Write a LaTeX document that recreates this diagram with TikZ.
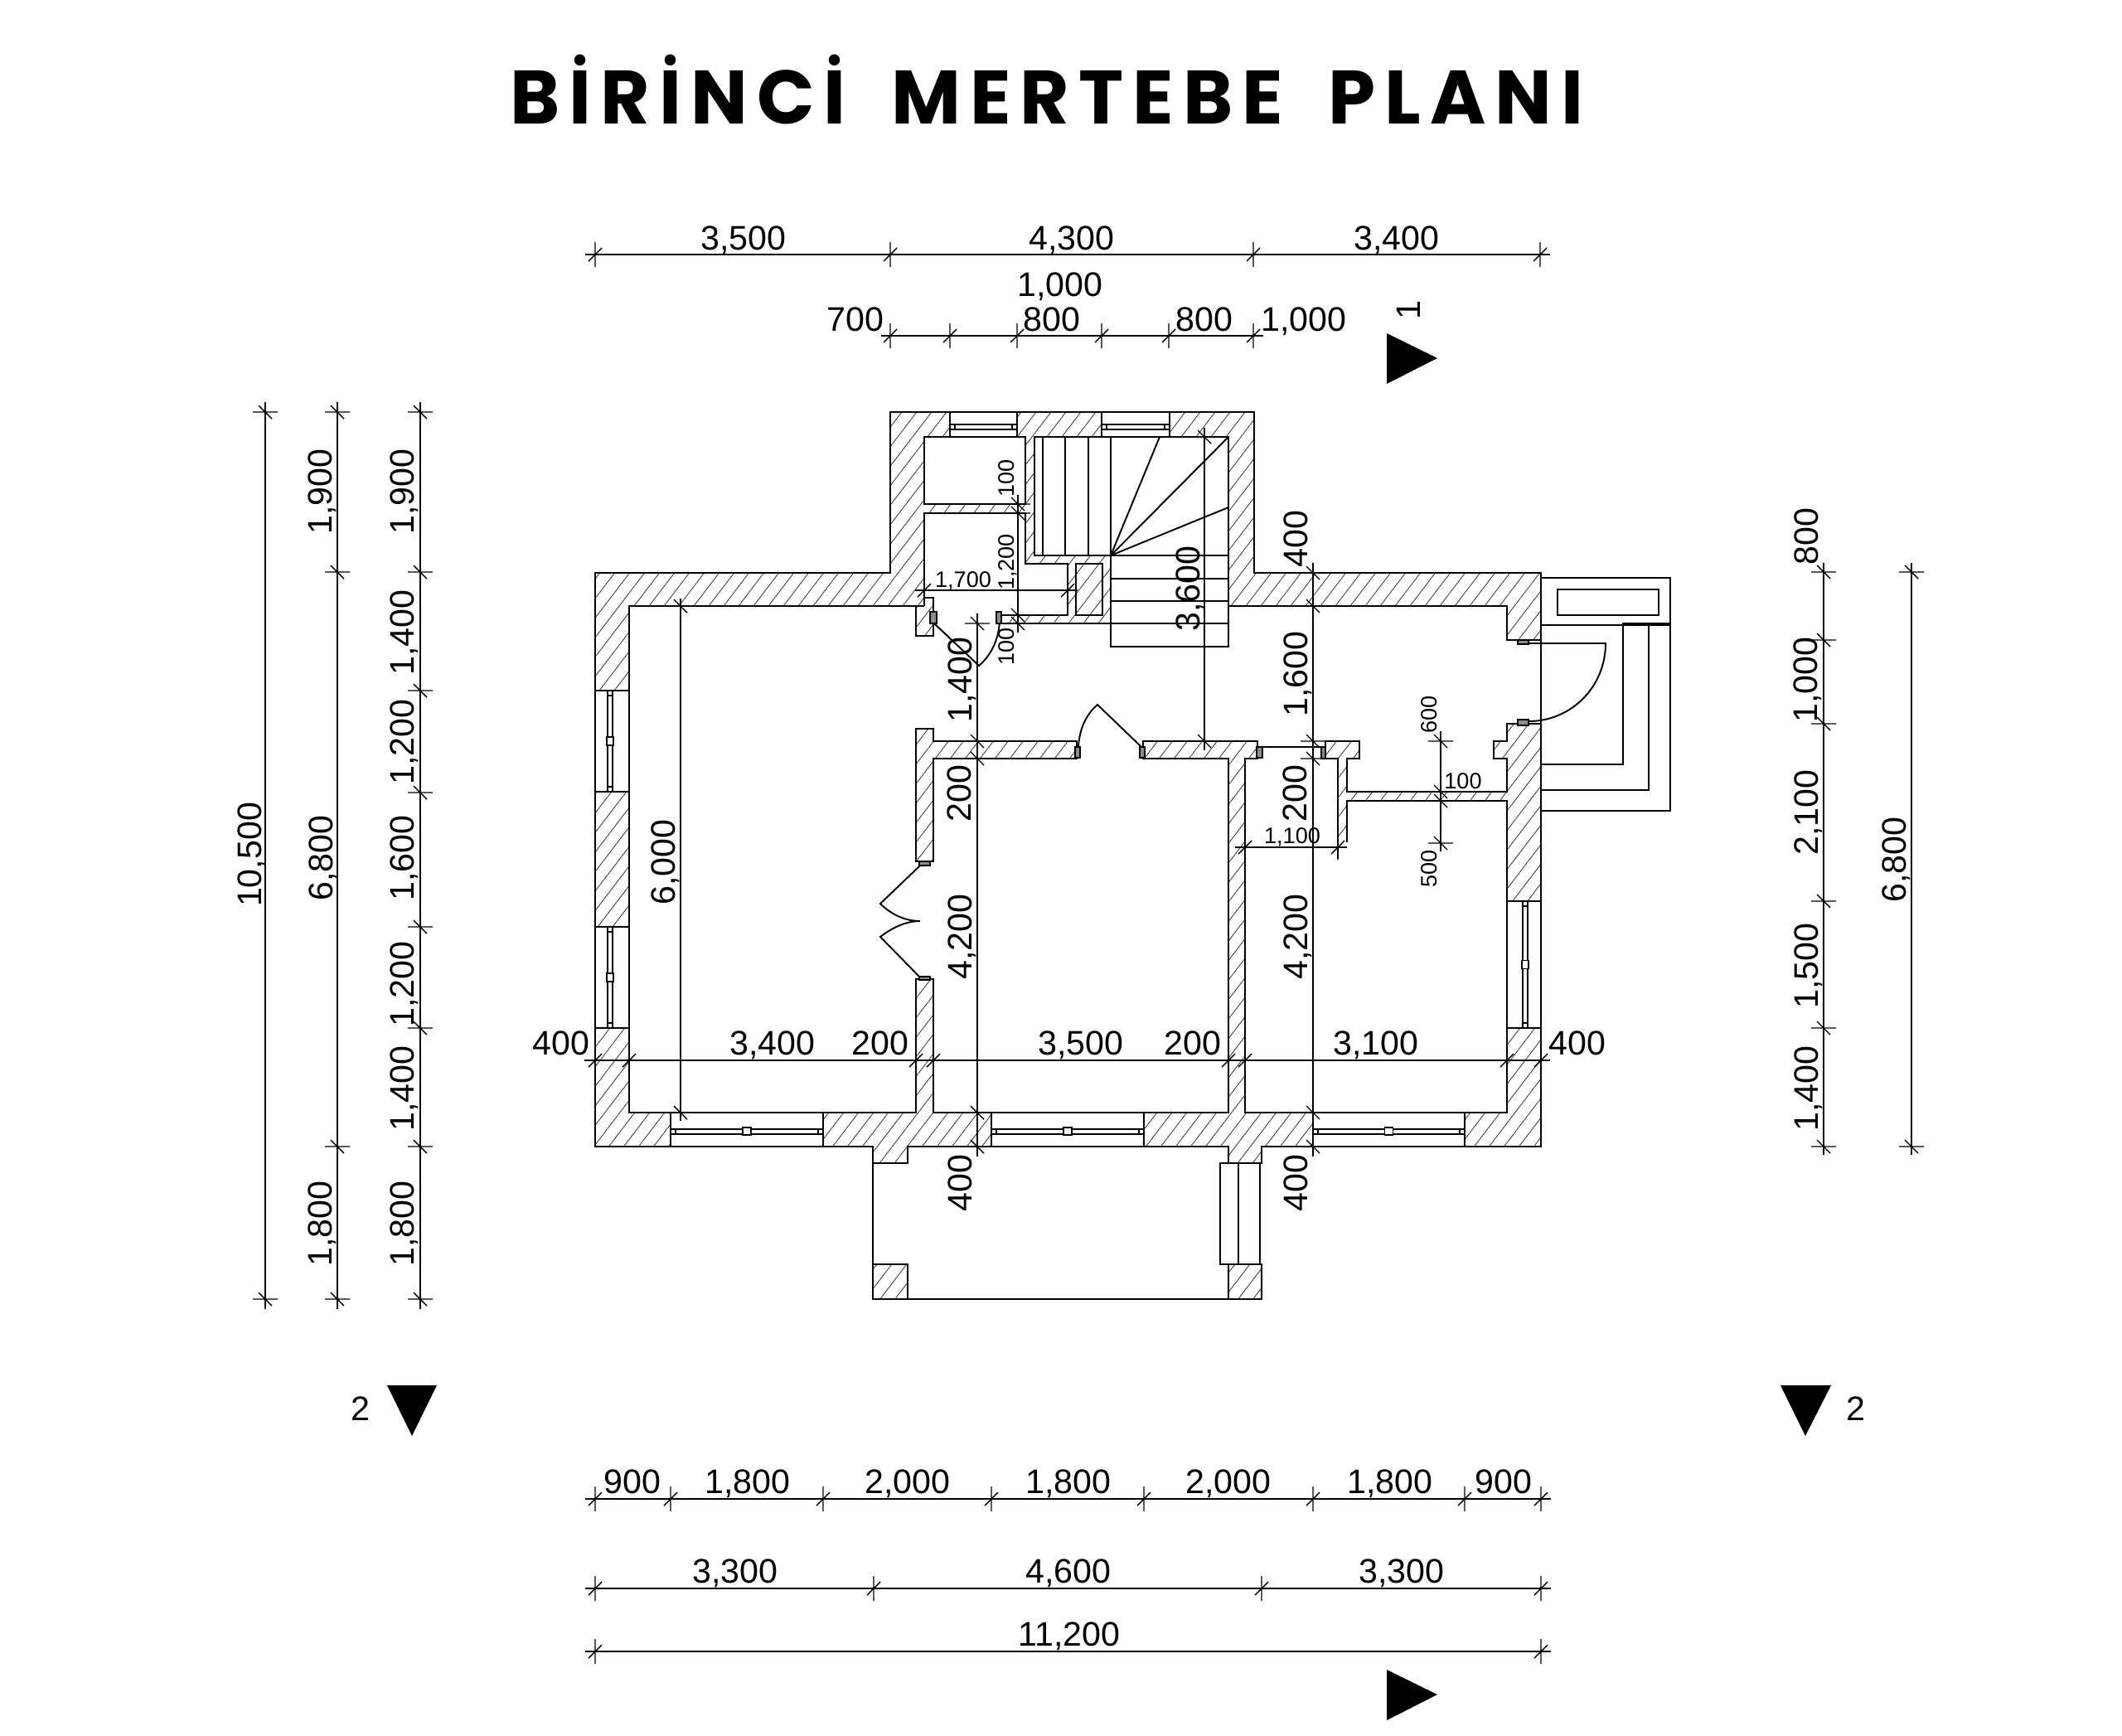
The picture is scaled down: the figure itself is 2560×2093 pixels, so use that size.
\documentclass[tikz,border=0pt]{standalone}
\usepackage{fontspec}
\setmainfont{Liberation Sans}
\newfontfamily\titlefont[LetterSpace=12]{Poppins Bold}
\tikzset{
  wallline/.style = {line width = 0.55pt, line join = miter},
  dimline/.style = {line width = 0.4pt},
  hatchline/.style = {line width = 0.25pt, black!75},
  dimtxt/.style = {inner sep = 0pt, font = \fontsize{11.7}{14}\selectfont, text height = 8.4pt, text depth = 0pt},
  smalltxt/.style = {inner sep = 0pt, font = \fontsize{7.7}{9}\selectfont, text height = 5.5pt, text depth = 0pt},
  windowgap/.style = {draw, fill = white, wallline},
  glass/.style = {draw, fill = white, line width = 0.5pt},
  jamb/.style = {draw, fill = black!45, line width = 0.6pt}
}
\newcommand{\htick}[2]{\draw[dimline] (#1, #2 - 15) -- (#1, #2 + 15) (#1 - 8, #2 + 8) -- (#1 + 8, #2 - 8);}
\newcommand{\vtick}[2]{\draw[dimline] (#2 - 15, #1) -- (#2 + 15, #1) (#2 - 8, #1 - 8) -- (#2 + 8, #1 + 8);}
\newcommand{\hwin}[3]{%
  \draw[glass] (#1, #3 - 3) rectangle (#2, #3 + 3);
  \draw[glass] (#1, #3 - 3) rectangle (#1 + 6, #3 + 3);
  \draw[glass] (#2 - 6, #3 - 3) rectangle (#2, #3 + 3);}
\newcommand{\vwin}[3]{%
  \draw[glass] (#3 - 3, #1) rectangle (#3 + 3, #2);
  \draw[glass] (#3 - 3, #1) rectangle (#3 + 3, #1 + 6);
  \draw[glass] (#3 - 3, #2 - 6) rectangle (#3 + 3, #2);
  \draw[glass] (#3 - 4, #1 / 2 + #2 / 2 - 5) rectangle (#3 + 4, #1 / 2 + #2 / 2 + 5);}
\begin{document}
\begin{tikzpicture}[x = 0.01cm, y = -0.01cm]
  \useasboundingbox (0, 0) rectangle (2560, 2093);
  \node (title) at (1263, 108) {\titlefont\fontsize{26}{30}\selectfont BİRİNCİ\hspace{7pt} MERTEBE\hspace{7pt} PLANI};

  % hatching of the walls
  \begin{scope}
    \clip (718, 691) rectangle (1115, 731) (1074, 497) rectangle (1115, 731)
      (1074, 497) rectangle (1513, 527) (1482, 497) rectangle (1513, 731)
      (1482, 691) rectangle (1859, 731) (1818, 691) rectangle (1859, 772)
      (1818, 873) rectangle (1859, 1383) (1802, 894) rectangle (1818, 915)
      (718, 691) rectangle (759, 1383) (718, 1342) rectangle (1859, 1383)
      (1053, 1383) rectangle (1095, 1403) (1482, 1383) rectangle (1522, 1403)
      (1053, 1525) rectangle (1095, 1567) (1482, 1525) rectangle (1522, 1567)
      (1115, 608) rectangle (1237, 619) (1237, 527) rectangle (1248, 680)
      (1248, 670) rectangle (1340, 680) (1288, 680) rectangle (1340, 752)
      (1208, 742) rectangle (1288, 752)
      (1105, 731) rectangle (1126, 767) (1115, 721) rectangle (1126, 731)
      (1105, 879) rectangle (1126, 1039) (1105, 1181) rectangle (1126, 1342)
      (1126, 894) rectangle (1299, 915) (1379, 894) rectangle (1517, 915)
      (1482, 915) rectangle (1502, 1342)
      (1599, 894) rectangle (1640, 915) (1614, 915) rectangle (1625, 1016)
      (1625, 955) rectangle (1818, 966);
    \foreach \k in {1090, 1108, ..., 3100}
      \draw[hatchline] (\k, 0) -- (\k - 1300, 1700);
  \end{scope}

  % window openings
  \foreach \xa/\xb in {1146/1227, 1329/1411}
    \draw[windowgap] (\xa, 497) rectangle (\xb, 527);
  \foreach \xa/\xb in {809/993, 1196/1380, 1584/1767}
    \draw[windowgap] (\xa, 1342) rectangle (\xb, 1383);
  \foreach \ya/\yb in {833/955, 1118/1240}
    \draw[windowgap] (718, \ya) rectangle (759, \yb);
  \draw[windowgap] (1818, 1087) rectangle (1859, 1240);
  \hwin{1146}{1227}{515}
  \hwin{1329}{1411}{515}
  \foreach \xa/\xb in {809/993, 1196/1380, 1584/1767} {
    \hwin{\xa}{\xb}{1365}
    \draw[glass] (\xa / 2 + \xb / 2 - 5, 1360) rectangle (\xa / 2 + \xb / 2 + 5, 1369);
  }
  \vwin{833}{955}{736}
  \vwin{1118}{1240}{736}
  \vwin{1087}{1240}{1840}

  % walls
  \draw[wallline] (718, 691) -- (1074, 691) -- (1074, 497) -- (1513, 497) -- (1513, 691) -- (1859, 691)
    -- (1859, 1383) -- (1522, 1383) -- (1522, 1403) -- (1482, 1403) -- (1482, 1383) -- (1095, 1383)
    -- (1095, 1403) -- (1053, 1403) -- (1053, 1383) -- (718, 1383) -- cycle;
  \draw[wallline] (1115, 731) -- (759, 731) -- (759, 1342) -- (1105, 1342) -- (1105, 1181) -- (1126, 1181)
    -- (1126, 1342) -- (1482, 1342) -- (1482, 915) -- (1379, 915) -- (1379, 894) -- (1517, 894) -- (1517, 915)
    -- (1502, 915) -- (1502, 1342) -- (1818, 1342) -- (1818, 966) -- (1625, 966) -- (1625, 1016);
  \draw[wallline] (1614, 1036) -- (1614, 915) -- (1599, 915) -- (1599, 894) -- (1640, 894) -- (1640, 915)
    -- (1625, 915) -- (1625, 955) -- (1818, 955) -- (1818, 915) -- (1802, 915) -- (1802, 894) -- (1818, 894)
    -- (1818, 873) -- (1859, 873);
  \draw[wallline] (1482, 731) -- (1818, 731) -- (1818, 772) -- (1859, 772);
  \draw[wallline] (1115, 731) -- (1115, 619) -- (1237, 619) -- (1237, 680) -- (1288, 680) -- (1288, 742) -- (1208, 742);
  \draw[wallline] (1208, 752) -- (1340, 752);
  \draw[wallline] (1115, 527) rectangle (1237, 608);
  \draw[wallline] (1298, 680) rectangle (1330, 742);
  \draw[wallline] (1115, 721) -- (1126, 721) -- (1126, 767) -- (1105, 767) -- (1105, 731);
  \draw[wallline] (1105, 879) -- (1126, 879) -- (1126, 894) -- (1299, 894) -- (1299, 915) -- (1126, 915)
    -- (1126, 1039) -- (1105, 1039) -- cycle;

  % stairs
  \draw[wallline] (1248, 527) rectangle (1482, 670);
  \draw[wallline] (1340, 527) -- (1340, 780) -- (1482, 780) -- (1482, 670);
  \foreach \x in {1258, 1285, 1313}
    \draw[wallline] (\x, 527) -- (\x, 670);
  \foreach \y in {698, 725, 752}
    \draw[wallline] (1340, \y) -- (1482, \y);
  \draw[wallline] (1340, 670) -- (1399, 527) (1340, 670) -- (1482, 527) (1340, 670) -- (1482, 612);

  % entrance steps
  \draw[wallline] (1859, 697) -- (2015, 697) -- (2015, 978) -- (1859, 978);
  \draw[wallline] (1859, 754) -- (2015, 754);
  \draw[wallline] (1879, 711) rectangle (2001, 742);
  \draw[wallline] (2015, 752) -- (1958, 752) -- (1958, 922) -- (1859, 922);
  \draw[wallline] (1989, 752) -- (1989, 953) -- (1859, 953);

  % porch
  \draw[wallline, line width = 0.7pt] (1053, 1403) -- (1053, 1567) -- (1482, 1567);
  \draw[wallline] (1482, 1567) -- (1522, 1567) -- (1522, 1525) -- (1482, 1525) -- cycle;
  \draw[wallline] (1053, 1525) rectangle (1095, 1567);
  \draw[wallline] (1472, 1403) rectangle (1520, 1525);
  \draw[wallline] (1494, 1403) -- (1494, 1525);

  % doors
  \draw[wallline] (1127, 752) -- (1181, 803) .. controls (1196, 790) and (1206, 770) .. (1206, 745);
  \draw[wallline] (1301, 901) .. controls (1302, 880) and (1310, 862) .. (1324, 850) -- (1377, 901);
  \draw[wallline] (1110, 1044) -- (1062, 1090) .. controls (1075, 1103) and (1092, 1111) .. (1110, 1111)
    .. controls (1092, 1111) and (1075, 1120) .. (1062, 1130) -- (1110, 1179);
  \draw[wallline] (1523, 901) -- (1594, 901);
  \draw[wallline] (1844, 776) -- (1937, 776) .. controls (1937, 828) and (1896, 870) .. (1844, 870);
  \foreach \xa/\ya/\xb/\yb in {1122/738/1130/752, 1202/738/1208/752, 1109/1039/1122/1044, 1109/1178/1122/1182,
      1297/901/1303/914, 1375/901/1381/914, 1516/901/1523/914, 1594/901/1599/915, 1831/772/1844/777, 1831/868/1844/875}
    \draw[jamb] (\xa, \ya) rectangle (\xb, \yb);

  % horizontal dimensions
  \draw[dimline] (706, 307) -- (1870, 307);
  \foreach \x in {718, 1074, 1512, 1858} {\htick{\x}{307}}
  \draw[dimline] (1063, 405) -- (1524, 405);
  \foreach \x in {1074, 1146, 1227, 1329, 1410, 1512} {\htick{\x}{405}}
  \draw[dimline] (705, 1279) -- (1870, 1279);
  \foreach \x in {718, 759, 1105, 1126, 1482, 1502, 1818, 1859} {\htick{\x}{1279}}
  \draw[dimline] (706, 1808) -- (1871, 1808);
  \foreach \x in {718, 809, 993, 1196, 1380, 1584, 1767, 1859} {\htick{\x}{1808}}
  \draw[dimline] (706, 1916) -- (1871, 1916);
  \foreach \x in {718, 1054, 1522, 1859} {\htick{\x}{1916}}
  \draw[dimline] (706, 1992) -- (1871, 1992);
  \foreach \x in {718, 1859} {\htick{\x}{1992}}
  \draw[dimline] (1104, 712) -- (1300, 712);
  \foreach \x in {1115, 1288} {\htick{\x}{712}}
  \draw[dimline] (1490, 1022) -- (1625, 1022);
  \foreach \x in {1502, 1614} {\htick{\x}{1022}}

  % vertical dimensions
  \draw[dimline] (320, 485) -- (320, 1579);
  \foreach \y in {497, 1567} {\vtick{\y}{320}}
  \draw[dimline] (407, 485) -- (407, 1579);
  \foreach \y in {497, 690, 1383, 1567} {\vtick{\y}{407}}
  \draw[dimline] (507, 485) -- (507, 1579);
  \foreach \y in {497, 690, 833, 956, 1118, 1240, 1383, 1567} {\vtick{\y}{507}}
  \draw[dimline] (2200, 679) -- (2200, 1393);
  \foreach \y in {690, 772, 873, 1087, 1240, 1383} {\vtick{\y}{2200}}
  \draw[dimline] (2306, 679) -- (2306, 1393);
  \foreach \y in {690, 1383} {\vtick{\y}{2306}}
  \draw[dimline] (821, 722) -- (821, 1352);
  \foreach \y in {731, 1342} {\vtick{\y}{821}}
  \draw[dimline] (1179, 740) -- (1179, 1395);
  \foreach \y in {752, 894, 915, 1342, 1383} {\vtick{\y}{1179}}
  \draw[dimline] (1584, 679) -- (1584, 1395);
  \foreach \y in {691, 731, 894, 915, 1342, 1383} {\vtick{\y}{1584}}
  \draw[dimline] (1453, 516) -- (1453, 905);
  \foreach \y in {527, 894} {\vtick{\y}{1453}}
  \draw[dimline] (1228, 597) -- (1228, 763);
  \foreach \y in {608, 619, 742, 752} {\vtick{\y}{1228}}
  \draw[dimline] (1738, 882) -- (1738, 1027);
  \foreach \y in {894, 955, 966, 1017} {\vtick{\y}{1738}}

  % section marks
  \fill (1673, 402) -- (1673, 463) -- (1734, 432) -- cycle;
  \fill (1673, 2014) -- (1673, 2075) -- (1734, 2044) -- cycle;
  \fill (467, 1671) -- (527, 1671) -- (497, 1732) -- cycle;
  \fill (2148, 1671) -- (2209, 1671) -- (2178, 1732) -- cycle;

  % labels
  \foreach \x/\y/\txt [count = \n] in {897/287/{3,500}, 1293/287/{4,300}, 1685/287/{3,400}, 1032/385/700,
      1279/343/{1,000}, 1269/385/800, 1453/385/800, 1573/385/{1,000}, 677/1258/400, 932/1258/{3,400},
      1062/1258/200, 1304/1258/{3,500}, 1439/1258/200, 1660/1258/{3,100}, 1903/1258/400, 763/1787/900,
      902/1787/{1,800}, 1095/1787/{2,000}, 1289/1787/{1,800}, 1482/1787/{2,000}, 1677/1787/{1,800},
      1814/1787/900, 887/1895/{3,300}, 1289/1895/{4,600}, 1691/1895/{3,300}, 1290/1971/{11,200},
      435/1699/2, 2239/1699/2}
    \node[dimtxt] (hlab\n) at (\x, \y) {\txt};
  \foreach \x/\y/\txt [count = \n] in {301/1031/{10,500}, 386/593/{1,900}, 387/1035/{6,800}, 386/1476/{1,800},
      485/593/{1,900}, 485/763/{1,400}, 485/895/{1,200}, 485/1035/{1,600}, 485/1187/{1,200}, 485/1313/{1,400},
      485/1476/{1,800}, 2179/647/800, 2178/820/{1,000}, 2179/980/{2,100}, 2179/1165/{1,500}, 2179/1313/{1,400},
      2285/1037/{6,800}, 800/1040/{6,000}, 1158/820/{1,400}, 1157/957/200, 1158/1130/{4,200}, 1158/1427/400,
      1563/650/400, 1563/813/{1,600}, 1562/957/200, 1563/1130/{4,200}, 1563/1427/400, 1433/710/{3,600}, 1699/374/1}
    \node[dimtxt, rotate = 90] (vlab\n) at (\x, \y) {\txt};
  \foreach \x/\y/\txt [count = \n] in {1162/699/{1,700}, 1559/1008/{1,100}, 1765/942/100}
    \node[smalltxt] (hsml\n) at (\x, \y) {\txt};
  \foreach \x/\y/\txt [count = \n] in {1214/577/100, 1214/678/{1,200}, 1214/780/100, 1724/862/600, 1724/1048/500}
    \node[smalltxt, rotate = 90] (vsml\n) at (\x, \y) {\txt};
\end{tikzpicture}
\end{document}
